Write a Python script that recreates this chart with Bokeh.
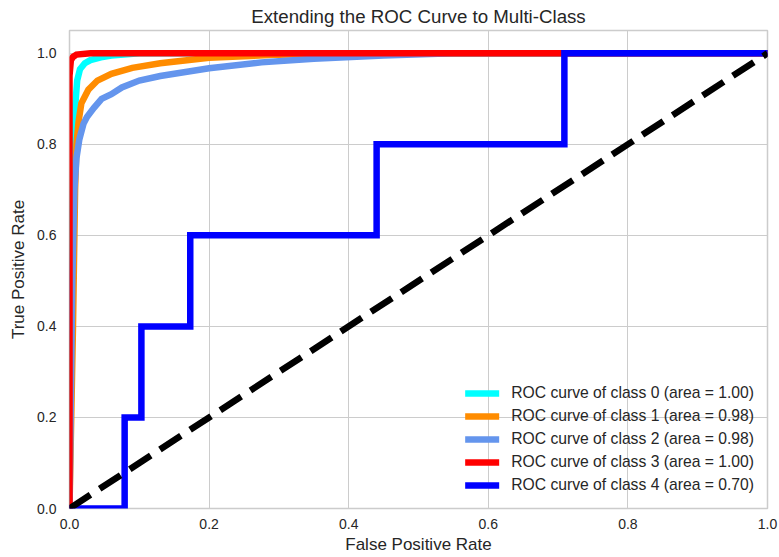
from bokeh.plotting import figure
from bokeh.models import Range1d, FixedTicker, Legend, LegendItem
from bokeh.embed import file_html
from bokeh.resources import INLINE

# ---- data ----
title_text = "Extending the ROC Curve to Multi-Class"
x_label = "False Positive Rate"
y_label = "True Positive Rate"
tick_values = [0.0, 0.2, 0.4, 0.6, 0.8, 1.0]
tick_labels = ["0.0", "0.2", "0.4", "0.6", "0.8", "1.0"]

class_names = ["0", "1", "2", "3", "4"]
class_areas = ["1.00", "0.98", "0.98", "1.00", "0.70"]
class_colors = ["#00ffff", "#ff8c00", "#6495ed", "#ff0000", "#0000ff"]

fpr0 = [0.0, 0.002, 0.004, 0.006, 0.008, 0.011, 0.015, 0.022, 0.03, 0.045, 0.06, 0.1, 1.0]
tpr0 = [0.0, 0.45, 0.65, 0.8, 0.88, 0.94, 0.965, 0.978, 0.985, 0.991, 0.995, 1.0, 1.0]

fpr1 = [0.0, 0.005, 0.008, 0.01, 0.013, 0.017, 0.027, 0.04, 0.06, 0.09, 0.13, 0.2, 0.3, 0.4, 1.0]
tpr1 = [0.0, 0.4, 0.7, 0.8, 0.85, 0.89, 0.92, 0.94, 0.955, 0.968, 0.978, 0.99, 0.997, 1.0, 1.0]

fpr2 = [0.0, 0.004, 0.007, 0.01, 0.014, 0.02, 0.025, 0.035, 0.046, 0.06, 0.075, 0.1, 0.13, 0.2, 0.275, 0.35, 0.45, 0.55, 1.0]
tpr2 = [0.0, 0.5, 0.7, 0.77, 0.81, 0.845, 0.86, 0.88, 0.9, 0.91, 0.925, 0.94, 0.95, 0.967, 0.98, 0.988, 0.995, 1.0, 1.0]

fpr3 = [0.0, 0.0, 0.002, 0.005, 0.01, 0.03, 1.0]
tpr3 = [0.0, 0.95, 0.985, 0.992, 0.997, 1.0, 1.0]

fpr4 = [0.0, 0.079, 0.079, 0.103, 0.103, 0.173, 0.173, 0.44, 0.44, 0.709, 0.709, 1.0]
tpr4 = [0.0, 0.0, 0.2, 0.2, 0.4, 0.4, 0.6, 0.6, 0.8, 0.8, 1.0, 1.0]

chance_x = [0.0, 1.0]
chance_y = [0.0, 1.0]

FONT = "Liberation Sans"
TEXT_COLOR = "#262626"
GRID_COLOR = "#cccccc"

p = figure(width=779, height=557, output_backend="svg", toolbar_location=None,
           x_range=Range1d(0.0, 1.0), y_range=Range1d(0.0, 1.05),
           min_border_left=69, min_border_right=12, min_border_top=29, min_border_bottom=49)

p.title.text = title_text
p.title.align = "center"
p.title.text_font = FONT
p.title.text_font_size = "18.7px"
p.title.text_font_style = "normal"
p.title.text_color = TEXT_COLOR
p.title.standoff = 7
p.title.offset = 0

p.background_fill_color = "white"
p.border_fill_color = "white"
p.outline_line_color = GRID_COLOR
p.outline_line_width = 1.5

for ax in (p.xaxis[0], p.yaxis[0]):
    ax.ticker = FixedTicker(ticks=tick_values)
    ax.major_label_overrides = {v: s for v, s in zip(tick_values, tick_labels)}
    ax.axis_line_color = None
    ax.major_tick_line_color = None
    ax.minor_tick_line_color = None
    ax.major_tick_out = 0
    ax.major_tick_in = 0
    ax.major_label_text_font = FONT
    ax.major_label_text_font_size = "14px"
    ax.major_label_text_color = TEXT_COLOR
    ax.axis_label_text_font = FONT
    ax.axis_label_text_font_size = "17px"
    ax.axis_label_text_font_style = "normal"
    ax.axis_label_text_color = TEXT_COLOR

p.xaxis.axis_label = x_label
p.yaxis.axis_label = y_label
p.xaxis.major_label_standoff = 10
p.yaxis.major_label_standoff = 13
p.xaxis.axis_label_standoff = 3
p.yaxis.axis_label_standoff = 6

for g in (p.xgrid[0], p.ygrid[0]):
    g.ticker = FixedTicker(ticks=tick_values)
    g.grid_line_color = GRID_COLOR
    g.grid_line_width = 1

LW = 6.5
series = [(fpr0, tpr0), (fpr1, tpr1), (fpr2, tpr2), (fpr3, tpr3), (fpr4, tpr4)]
items = []
for (fx, ty), name, area, col in zip(series, class_names, class_areas, class_colors):
    r = p.line(fx, ty, line_color=col, line_width=LW, line_cap="round", line_join="miter")
    items.append(LegendItem(label=f"ROC curve of class {name} (area = {area})", renderers=[r]))

p.line(chance_x, chance_y, line_color="black", line_width=LW, line_dash="25 11", line_cap="butt")

legend = Legend(items=items, location="bottom_right",
                label_text_font=FONT, label_text_font_size="15.7px", label_text_color=TEXT_COLOR,
                glyph_width=34, glyph_height=20, label_height=20, label_standoff=12,
                spacing=3, padding=7, margin=6,
                background_fill_alpha=0.0, border_line_alpha=0.0)
p.add_layout(legend)

open("out.html", "w").write(file_html(p, INLINE))
